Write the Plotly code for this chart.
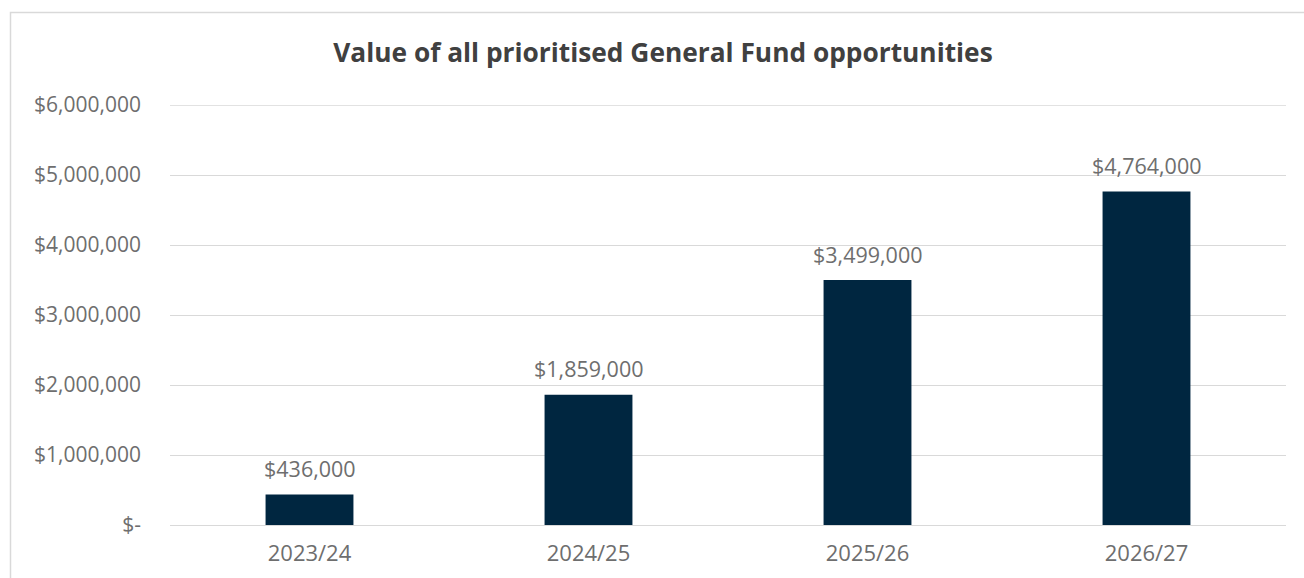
import plotly.graph_objects as go

categories = ["2023/24", "2024/25", "2025/26", "2026/27"]
values = [436000, 1859000, 3499000, 4764000]
labels = ["$436,000", "$1,859,000", "$3,499,000", "$4,764,000"]
tick_vals = [0, 1000000, 2000000, 3000000, 4000000, 5000000, 6000000]
tick_text = ["$-", "$1,000,000", "$2,000,000", "$3,000,000", "$4,000,000", "$5,000,000", "$6,000,000"]

FONT = "Open Sans"
GREY = "#6e6e6e"
GRID = "#d9d9d9"

fig = go.Figure(go.Bar(
    x=categories, y=values,
    marker=dict(color="#002640", line=dict(width=0)),
    width=0.315,
))

for c, v, t in zip(categories, values, labels):
    fig.add_annotation(x=c, y=v, text=t, showarrow=False, yanchor="middle",
                       yshift=26, font=dict(family=FONT, size=21.5, color=GREY))

fig.update_layout(
    width=1304, height=578,
    margin=dict(l=170, r=18, t=105, b=53),
    paper_bgcolor="white", plot_bgcolor="white",
    showlegend=False,
    title=dict(text="<b>Value of all prioritised General Fund opportunities</b>",
               x=663/1304, xref="container", xanchor="center",
               y=(578-53)/578, yref="container", yanchor="middle",
               font=dict(family=FONT, size=26.3, color="#404040")),
    xaxis=dict(showgrid=False, showline=False, ticks="",
               tickfont=dict(family=FONT, size=22, color=GREY), ticklabelstandoff=13),
    yaxis=dict(range=[0, tick_vals[-1]], tickvals=tick_vals, ticktext=tick_text,
               showgrid=True, gridcolor=GRID, gridwidth=1.3,
               zeroline=True, zerolinecolor=GRID, zerolinewidth=1.3,
               showline=False, ticks="",
               tickfont=dict(family=FONT, size=21, color=GREY), ticklabelstandoff=28),
    shapes=[
        dict(type="rect", xref="paper", yref="paper",
             x0=(10.5-170)/1116, x1=1.2, y0=-0.3, y1=(525-12.5)/420,
             line=dict(color=GRID, width=1.5), fillcolor="rgba(0,0,0,0)", layer="below"),
        dict(type="line", xref="paper", yref="y", x0=0, x1=1,
             y0=tick_vals[-1], y1=tick_vals[-1], line=dict(color=GRID, width=1.3), layer="below"),
    ],
)

fig.write_html("out.html")
